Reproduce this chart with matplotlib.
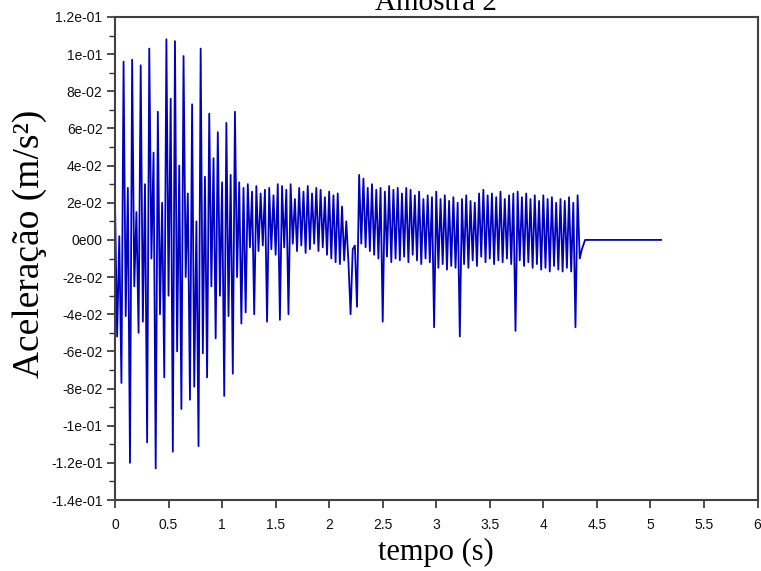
import numpy as np
import matplotlib
matplotlib.use("Agg")
import matplotlib.pyplot as plt
from matplotlib.ticker import MultipleLocator

# ---- data (acceleration in units of 1e-3 m/s^2, sampled every 0.02 s) ----
dt = 0.02
accel_part1_milli = [
    20, -52, 2, -77, 96, -41, 28, -120, 97, -25,
    15, -50, 94, -44, 30, -109, 103, -10, 47, -123,
    69, -40, 20, -74, 108, -30, 76, -114, 107, -60,
    40, -91, 99, -20, 25, -86, 73, -79, 10, -111,
    103, -61, 34, -74, 68, -25, 44, -53, 58, -30,
    31, -84, 63, -41, 35, -72, 69, -20, 31, -45,
]
accel_part2_milli = [
    28, -39, 30, -4, 26, -40, 29, -6, 25, -3,
    27, -44, 28, -5, 24, -8, 30, -43, 29, -4,
    27, -40, 30, -2, 22, -6, 28, -3, 26, -7,
    29, -5, 25, -2, 28, -6, 27, -4, 23, -8,
    26, -10, 24, -12, 25, -13, 18, -11, 10, -12,
    -40, -5, -3, -36, 35, -2, 33, -4, 28, -6,
    30, -8, 27, -10, 28, -44, 26, -9, 29, -12,
    27, -10, 28, -11, 25, -9, 28, -12, 27, -8,
    24, -11, 26, -13, 22, -10, 24, -12, 23, -47,
    26, -15, 22, -13, 24, -16, 21, -14, 23, -15,
    20, -52, 22, -13, 24, -15, 21, -11, 20, -14,
    25, -9, 27, -12, 24, -10, 25, -13, 23, -11,
    26, -12, 22, -10, 24, -13, 25, -49, 26, -11,
    23, -14, 25, -12, 22, -15, 24, -13, 21, -16,
    24, -15, 22, -17, 23, -14, 20, -16, 22, -17,
    21, -15, 23, -17, 20, -47, 24, -10, -5,
]
tail_tempo = [4.39, 5.10]
tail_accel_milli = [0, 0]

y_ticks = [-0.14, -0.12, -0.10, -0.08, -0.06, -0.04, -0.02, 0.0,
           0.02, 0.04, 0.06, 0.08, 0.10, 0.12]
y_tick_labels = ["-1.4e-01", "-1.2e-01", "-1e-01", "-8e-02", "-6e-02", "-4e-02",
                 "-2e-02", "0e00", "2e-02", "4e-02", "6e-02", "8e-02", "1e-01",
                 "1.2e-01"]
x_ticks = [0, 0.5, 1, 1.5, 2, 2.5, 3, 3.5, 4, 4.5, 5, 5.5, 6]
x_tick_labels = ["0", "0.5", "1", "1.5", "2", "2.5", "3", "3.5", "4", "4.5",
                 "5", "5.5", "6"]

samples = accel_part1_milli + accel_part2_milli
tempo = list(np.arange(len(samples)) * dt) + tail_tempo
accel = np.array(samples + tail_accel_milli) * 1e-3

# ---- figure ----
W, H = 761, 571
fig = plt.figure(figsize=(W / 100, H / 100), dpi=100)
ax = fig.add_axes([115 / W, 1 - 500 / H, (757.5 - 115) / W, (500 - 17) / H])

ax.plot(tempo, accel, color="#0000c0", linewidth=1.3)

ax.set_xlim(0, 6)
ax.set_ylim(-0.14, 0.12)
ax.set_xticks(x_ticks)
ax.set_xticklabels(x_tick_labels)
ax.set_yticks(y_ticks)
ax.set_yticklabels(y_tick_labels)
ax.yaxis.set_minor_locator(MultipleLocator(0.01))

for s in ax.spines.values():
    s.set_color("#404040")
    s.set_linewidth(1.5)

sans = ["Liberation Sans", "DejaVu Sans"]
ax.tick_params(axis="both", which="major", direction="out", length=6, width=1.2,
               color="#303030", labelsize=10, labelcolor="#111111", pad=3)
ax.tick_params(axis="x", which="major", pad=7)
ax.tick_params(axis="y", which="minor", direction="out", length=4, width=1.0,
               color="#303030")
for lab in ax.get_xticklabels() + ax.get_yticklabels():
    lab.set_family(sans)

serif = ["Liberation Serif", "DejaVu Serif"]
ax.set_xlabel("tempo (s)", fontsize=22, family=serif, labelpad=4)
fig.text(30 / W, 1 - 244 / H, "Aceleração (m/s²)", rotation=90,
         ha="center", va="center", fontsize=27, family=serif)

fig.text(0.5735, 1 - 10 / H, "Amostra 2", ha="center", va="baseline",
         fontsize=21, family=serif)

fig.savefig("out.png", dpi=100, facecolor="white")
